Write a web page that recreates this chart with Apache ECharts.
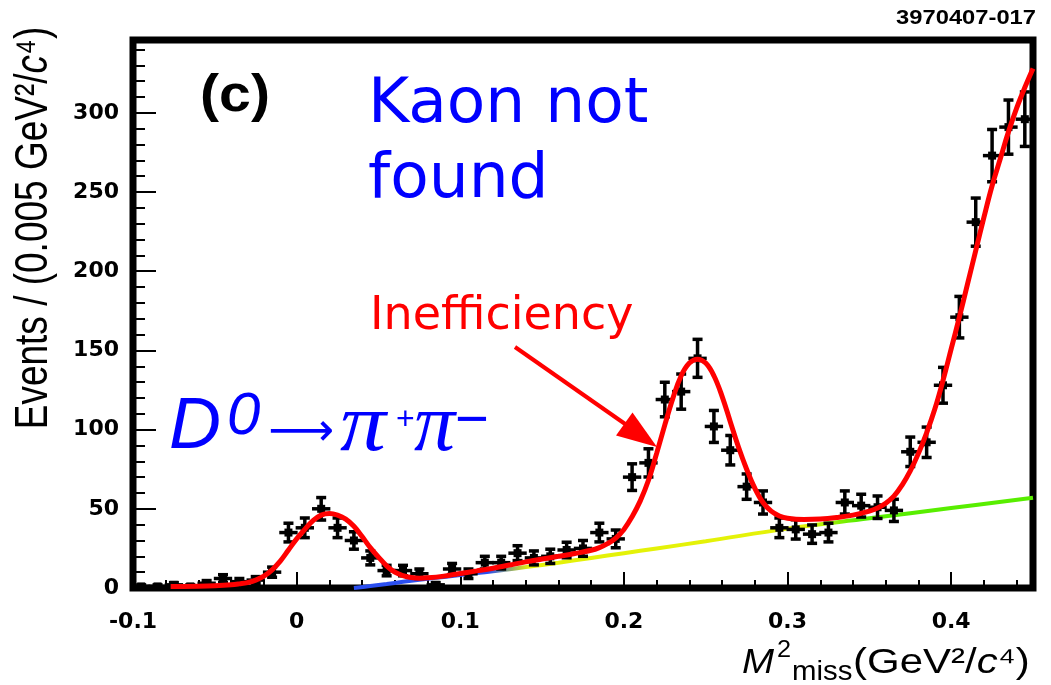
<!DOCTYPE html>
<html>
<head>
<meta charset="utf-8">
<script src="https://cdn.jsdelivr.net/npm/echarts@6/dist/echarts.min.js"></script>
<style>
  html, body { margin: 0; padding: 0; background: #fff; }
  #chart { width: 1051px; height: 685px; }
</style>
</head>
<body>
<div id="chart"></div>
<script>
// Missing-mass-squared histogram, 0.01 GeV^2/c^4 wide bins
const binCenters = [
  -0.095, -0.085, -0.075, -0.065, -0.055, -0.045, -0.035, -0.025, -0.015, -0.005,
   0.005,  0.015,  0.025,  0.035,  0.045,  0.055,  0.065,  0.075,  0.085,  0.095,
   0.105,  0.115,  0.125,  0.135,  0.145,  0.155,  0.165,  0.175,  0.185,  0.195,
   0.205,  0.215,  0.225,  0.235,  0.245,  0.255,  0.265,  0.275,  0.285,  0.295,
   0.305,  0.315,  0.325,  0.335,  0.345,  0.355,  0.365,  0.375,  0.385,  0.395,
   0.405,  0.415,  0.425,  0.435,  0.445
];
const counts = [
    1,   1,   2,   1,   3,   6,   4,   5,  10,  35,
   38,  50,  38,  30,  19,  11,  11,   9,   2,  12,
    9,  16,  16,  22,  19,  20,  24,  25,  35,  31,
   70,  79, 119, 124, 145, 102,  87,  64,  54,  38,
   37,  34,  35,  54,  52,  51,  49,  86,  92, 128,
  171, 231, 273, 291, 296
];
const countErrors = [
   1.0,  1.0,  1.4,  1.0,  1.7,  2.4,  2.0,  2.2,  3.2,  5.9,
   6.2,  7.1,  6.2,  5.5,  4.4,  3.3,  3.3,  3.0,  1.4,  3.5,
   3.0,  4.0,  4.0,  4.7,  4.4,  4.5,  4.9,  5.0,  5.9,  5.6,
   8.4,  8.9, 10.9, 11.1, 12.0, 10.1,  9.3,  8.0,  7.3,  6.2,
   6.1,  5.8,  5.9,  7.3,  7.2,  7.1,  7.0,  9.3,  9.6, 11.3,
  13.1, 15.2, 16.5, 17.1, 17.2
];

// Total fit (red)
const fitX = [
  -0.077, -0.07, -0.06, -0.05, -0.04, -0.035, -0.03, -0.025, -0.02, -0.015, -0.01, -0.005,
  0, 0.005, 0.01, 0.015, 0.02, 0.025, 0.03, 0.035, 0.04, 0.045, 0.05, 0.055, 0.06, 0.065, 0.07, 0.075, 0.08,
  0.09, 0.1, 0.11, 0.12, 0.13, 0.14, 0.15, 0.16, 0.17, 0.18,
  0.185, 0.19, 0.195, 0.2, 0.205, 0.21, 0.215, 0.22, 0.225, 0.23, 0.235, 0.24, 0.245, 0.25,
  0.255, 0.26, 0.265, 0.27, 0.275, 0.28, 0.285, 0.29, 0.295, 0.3,
  0.31, 0.32, 0.33, 0.34, 0.35,
  0.355, 0.36, 0.365, 0.37, 0.375, 0.38, 0.385, 0.39, 0.395, 0.4,
  0.405, 0.41, 0.415, 0.42, 0.425, 0.43, 0.435, 0.44, 0.445, 0.45
];
const fitY = [
  1, 1, 1.1, 1.4, 2, 2.6, 3.4, 5, 7.5, 11.5, 17, 24,
  31, 37, 42.5, 46, 47, 46, 43.5, 39, 32.5, 25.5, 19.5, 14, 10, 7.8, 6.6, 6.2, 6.4,
  7.5, 9.2, 10.8, 12.5, 14.5, 16.5, 18.3, 20, 21.8, 23.8,
  25.5, 28, 31.5, 37, 45, 55, 68, 85, 103, 120, 134, 142, 144.5, 142,
  134, 121, 105, 89, 75, 63, 54, 48.5, 45.5, 44,
  43.2, 43.5, 44.5, 46, 48.5,
  50.5, 53.5, 58, 65, 74, 85, 98, 113, 131, 151,
  171, 192, 213, 234, 254, 271, 288, 303, 316, 328
];

// Background component
const bkgX = [0.035, 0.045, 0.055, 0.065, 0.075, 0.085, 0.095, 0.105, 0.115, 0.125,
              0.14, 0.16, 0.18, 0.2, 0.22, 0.25, 0.3, 0.35, 0.4, 0.45];
const bkgY = [0, 1.2, 2.5, 3.9, 5.2, 6.4, 7.6, 8.8, 10, 11.2,
              13.2, 16, 19, 22, 25, 29.5, 37.5, 44, 50.5, 57];

const X_MIN = -0.1, X_MAX = 0.45, Y_MIN = 0, Y_MAX = 346;
const BIN_HALF = 0.005;

const zip = (a, b) => a.map((v, i) => [v, b[i]]);
const pointRows = binCenters.map((x, i) => [x, counts[i], countErrors[i]]);

const chart = echarts.init(document.getElementById('chart'), null, { renderer: 'canvas' });

function renderPoint(params, api) {
  const x = api.value(0), y = api.value(1), e = api.value(2);
  const c = api.coord([x, y]);
  const lo = api.coord([x, y - e]);
  const hi = api.coord([x, y + e]);
  const l = api.coord([x - BIN_HALF, y]);
  const r = api.coord([x + BIN_HALF, y]);
  const st = { stroke: '#000', lineWidth: 3.5 };
  const cap = 5;
  return {
    type: 'group',
    children: [
      { type: 'line', shape: { x1: c[0], y1: lo[1], x2: c[0], y2: hi[1] }, style: st },
      { type: 'line', shape: { x1: c[0] - cap, y1: lo[1], x2: c[0] + cap, y2: lo[1] }, style: st },
      { type: 'line', shape: { x1: c[0] - cap, y1: hi[1], x2: c[0] + cap, y2: hi[1] }, style: st },
      { type: 'line', shape: { x1: l[0] - 1, y1: c[1], x2: r[0] + 1, y2: c[1] }, style: st },
      { type: 'rect', shape: { x: c[0] - 4, y: c[1] - 4, width: 8, height: 8 }, style: { fill: '#000' } }
    ]
  };
}

const tickFont = { color: '#000', fontFamily: 'DejaVu Sans', fontWeight: 'bold', fontSize: 22 };

const annotations = [
  // run number
  { type: 'text', x: 1036, y: 18, scaleX: 1.13,
    style: { text: '3970407-017', font: 'bold 21px "Liberation Sans"', fill: '#000', align: 'right', verticalAlign: 'middle' } },
  // panel tag
  { type: 'text', x: 235, y: 97, scaleX: 1.1,
    style: { text: '(c)', font: 'bold 52px "Liberation Sans"', fill: '#000', align: 'center', verticalAlign: 'middle' } },
  // notes
  { type: 'text', x: 368, y: 68, z: 10,
    style: { text: 'Kaon not\nfound', font: '63px "DejaVu Sans"', lineHeight: 75, fill: '#0000ff', align: 'left', verticalAlign: 'top' } },
  { type: 'text', x: 370, y: 317, z: 10,
    style: { text: 'Inefficiency', font: '46px "DejaVu Sans"', fill: '#ff0000', align: 'left', verticalAlign: 'middle' } },
  // arrow to the inefficiency peak
  { type: 'line', z: 10, shape: { x1: 515, y1: 347, x2: 628, y2: 426 }, style: { stroke: '#ff0000', lineWidth: 4 } },
  { type: 'polygon', z: 10, shape: { points: [[657, 447], [616, 435.5], [632.5, 412.5]] }, style: { fill: '#ff0000' } },
  // decay label
  { type: 'text', x: 169, y: 428, z: 10,
    style: { text: 'D', font: 'italic 72px "Liberation Sans"', fill: '#0000ff', align: 'left', verticalAlign: 'middle' } },
  { type: 'text', x: 227, y: 417, z: 10,
    style: { text: '0', font: 'italic 60px "Liberation Sans"', fill: '#0000ff', align: 'left', verticalAlign: 'middle' } },
  { type: 'text', x: 268, y: 433, z: 10,
    style: { text: '⟶', font: '46px "DejaVu Sans"', fill: '#0000ff', align: 'left', verticalAlign: 'middle' } },
  { type: 'text', x: 340, y: 428, z: 10, scaleX: 1.12,
    style: { text: 'π', font: 'italic 82px "Liberation Serif"', fill: '#0000ff', align: 'left', verticalAlign: 'middle' } },
  { type: 'text', x: 396, y: 420, z: 10,
    style: { text: '+', font: '32px "Liberation Sans"', fill: '#0000ff', align: 'left', verticalAlign: 'middle' } },
  { type: 'text', x: 414, y: 428, z: 10,
    style: { text: 'π', font: 'italic 82px "Liberation Serif"', fill: '#0000ff', align: 'left', verticalAlign: 'middle' } },
  { type: 'text', x: 455, y: 422, z: 10,
    style: { text: '−', font: '58px "Liberation Sans"', fill: '#0000ff', align: 'left', verticalAlign: 'middle' } },
  // y axis title
  { type: 'text', x: 34, y: 228, rotation: Math.PI / 2, scaleY: 1.25,
    style: {
      text: '{a|Events / (0.005 GeV²/}{b|c}{a|⁴)}',
      align: 'center', verticalAlign: 'middle',
      rich: {
        a: { font: '37px "Liberation Sans"', fill: '#000' },
        b: { font: 'italic 37px "Liberation Sans"', fill: '#000' }
      }
    } },
  // x axis title
  { type: 'text', x: 742, y: 663, scaleX: 1.1,
    style: { text: 'M', font: 'italic 35px "Liberation Sans"', fill: '#000', align: 'left', verticalAlign: 'middle' } },
  { type: 'text', x: 777, y: 651, scaleX: 1.1,
    style: { text: '2', font: '23px "Liberation Sans"', fill: '#000', align: 'left', verticalAlign: 'middle' } },
  { type: 'text', x: 792, y: 672, scaleX: 1.05,
    style: { text: 'miss', font: '28px "Liberation Sans"', fill: '#000', align: 'left', verticalAlign: 'middle' } },
  { type: 'text', x: 853, y: 663, scaleX: 1.2,
    style: {
      text: '{a|(GeV²/}{b|c}{a|⁴)}',
      align: 'left', verticalAlign: 'middle',
      rich: {
        a: { font: '35px "Liberation Sans"', fill: '#000' },
        b: { font: 'italic 35px "Liberation Sans"', fill: '#000' }
      }
    } }
];

const FRAME_WIDTH = 7;

const option = {
  animation: false,
  backgroundColor: '#fff',
  grid: {
    left: 133, right: 18, top: 40, bottom: 97,
    show: true, borderColor: '#000', borderWidth: FRAME_WIDTH, backgroundColor: 'transparent'
  },
  xAxis: [
    {
      type: 'value', min: X_MIN, max: X_MAX, interval: 0.1, position: 'bottom',
      axisLine: { show: false, onZero: false },
      axisTick: { show: true, inside: true, length: 16, lineStyle: { color: '#000', width: 2 } },
      axisLabel: Object.assign({ margin: 23, showMaxLabel: false }, tickFont),
      splitLine: { show: false }
    },
    {
      type: 'value', min: X_MIN, max: X_MAX, interval: 0.02, position: 'bottom',
      axisLine: { show: false, onZero: false },
      axisTick: { show: true, inside: true, length: 8, lineStyle: { color: '#000', width: 2 } },
      axisLabel: { show: false },
      splitLine: { show: false }
    }
  ],
  yAxis: [
    {
      type: 'value', min: Y_MIN, max: Y_MAX, interval: 50, position: 'left',
      axisLine: { show: false, onZero: false },
      axisTick: { show: true, inside: true, length: 23, lineStyle: { color: '#000', width: 2 } },
      axisLabel: Object.assign({ margin: 14, showMaxLabel: false }, tickFont),
      splitLine: { show: false }
    },
    {
      type: 'value', min: Y_MIN, max: Y_MAX, interval: 10, position: 'left',
      axisLine: { show: false, onZero: false },
      axisTick: { show: true, inside: true, length: 12, lineStyle: { color: '#000', width: 2 } },
      axisLabel: { show: false },
      splitLine: { show: false }
    }
  ],
  series: [
    {
      name: 'background', type: 'line', xAxisIndex: 0, yAxisIndex: 0,
      data: zip(bkgX, bkgY), showSymbol: false, smooth: 0.4, z: 2,
      lineStyle: {
        width: 4,
        color: new echarts.graphic.LinearGradient(0, 0, 1, 0, [
          { offset: 0, color: '#2b4ff0' },
          { offset: 0.2, color: '#2b4ff0' },
          { offset: 0.26, color: '#e4f208' },
          { offset: 0.66, color: '#e4f208' },
          { offset: 0.74, color: '#58ee00' },
          { offset: 1, color: '#58ee00' }
        ])
      }
    },
    {
      name: 'data', type: 'custom', xAxisIndex: 0, yAxisIndex: 0,
      data: pointRows, encode: { x: 0, y: 1 }, renderItem: renderPoint, z: 3, clip: true
    },
    {
      name: 'fit', type: 'line', xAxisIndex: 0, yAxisIndex: 0,
      data: zip(fitX, fitY), showSymbol: false, smooth: 0.4, z: 4,
      lineStyle: { width: 5, color: '#ff0000' }
    }
  ],
  graphic: annotations
};

chart.setOption(option);
</script>
